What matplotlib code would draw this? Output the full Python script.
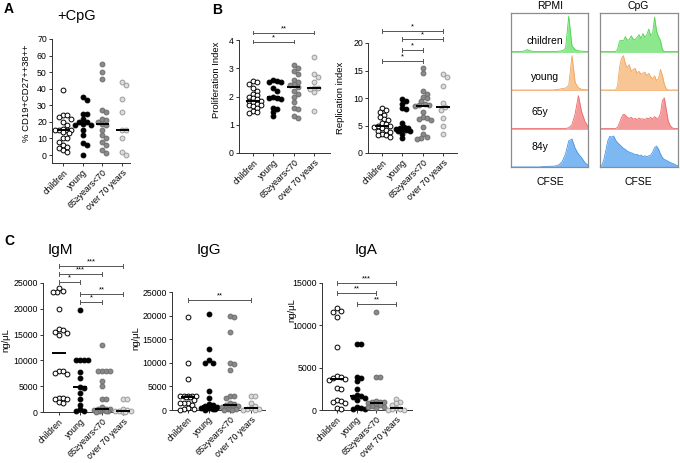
import numpy as np
import matplotlib
matplotlib.use('Agg')
import matplotlib.pyplot as plt

plt.rcParams['font.family'] = ['Liberation Sans', 'DejaVu Sans']

groups = ['children', 'young', '65≥years<70', 'over 70 years']

# A: % CD19+CD27++38++ after CpG
cpg_children = [39, 24, 24, 23, 22, 20, 18, 16, 15, 15, 15, 15, 14, 13, 10, 10, 8, 6, 5, 4, 3, 2]
cpg_young = [35, 33, 25, 25, 22, 20, 20, 19, 18, 18, 15, 12, 7, 6, 0]
cpg_65 = [55, 50, 46, 27, 26, 22, 21, 20, 19, 18, 15, 12, 10, 8, 6, 3, 1]
cpg_over70 = [44, 42, 34, 26, 15, 15, 10, 2, 0]

# B: proliferation / replication index
prolif_children = [2.55, 2.5, 2.45, 2.3, 2.2, 2.1, 2.05, 2.0, 1.95, 1.9, 1.85, 1.85, 1.8, 1.75,
                   1.7, 1.7, 1.65, 1.6, 1.5, 1.45, 1.4]
prolif_young = [2.6, 2.55, 2.5, 2.5, 2.3, 2.2, 2.0, 1.95, 1.95, 1.9, 1.6, 1.55, 1.45, 1.3]
prolif_65 = [3.1, 3.0, 2.9, 2.8, 2.6, 2.5, 2.45, 2.4, 2.35, 2.2, 2.1, 2.0, 1.8, 1.6, 1.55, 1.3, 1.25]
prolif_over70 = [3.4, 2.8, 2.7, 2.5, 2.3, 2.3, 2.25, 2.15, 1.5]

repl_children = [8.2, 7.8, 7.5, 7.0, 6.5, 6.2, 6.0, 5.5, 5.2, 5.0, 5.0, 4.8, 4.5, 4.2, 4.0, 3.8,
                 3.5, 3.2, 3.2, 3.0]
repl_young = [9.9, 9.5, 9.0, 8.2, 8.0, 5.5, 4.8, 4.5, 4.5, 4.4, 4.3, 4.2, 4.0, 4.0, 3.5, 2.7]
repl_65 = [15.5, 14.5, 11.3, 10.8, 10.2, 10.0, 9.5, 9.0, 8.8, 8.7, 8.6, 7.5, 6.5, 6.3, 6.2, 6.0,
           4.8, 3.5, 3.0, 2.8, 2.5]
repl_over70 = [14.4, 13.8, 12.2, 9.1, 8.4, 7.8, 6.4, 4.9, 3.4]

# B: CFSE histograms (relative height along the CFSE axis), rows children/young/65y/84y
rpmi_children = [0, 0, 0, 0, 0.01, 0.05, 0.02, 0, 0, 0, 0, 0, 0, 0, 0, 0.01, 0.02, 0.08,
                 0.95, 0.15, 0.05, 0.02, 0.01, 0, 0]
rpmi_young = [0, 0, 0, 0, 0, 0, 0, 0, 0, 0, 0, 0, 0, 0, 0.01, 0.02, 0.04, 0.05, 0.12, 0.92,
              0.2, 0.06, 0.02, 0.01, 0]
rpmi_65y = [0, 0, 0, 0, 0, 0, 0, 0, 0, 0, 0, 0, 0, 0, 0, 0, 0, 0, 0.02, 0.1, 0.4, 0.88,
            0.45, 0.2, 0.05]
rpmi_84y = [0, 0, 0, 0, 0, 0, 0, 0, 0, 0, 0.01, 0.01, 0.02, 0.02, 0.03, 0.06, 0.15, 0.35,
            0.7, 0.75, 0.5, 0.35, 0.25, 0.12, 0.05]
cpg_h_children = [0, 0, 0, 0, 0, 0, 0, 0, 0, 0.05, 0.28, 0.3, 0.28, 0.4, 0.3, 0.32, 0.42,
                  0.33, 0.32, 0.38, 0.45, 0.35, 0.48, 0.38, 0.45, 0.6, 0.42, 0.5, 0.92, 0.55,
                  0.4, 0.3, 0.05, 0, 0, 0, 0, 0, 0, 0, 0]
cpg_h_young = [0, 0, 0, 0, 0, 0, 0, 0, 0, 0.1, 0.6, 0.85, 0.92, 0.7, 0.6, 0.68, 0.5, 0.55,
               0.58, 0.45, 0.5, 0.42, 0.45, 0.48, 0.38, 0.45, 0.35, 0.3, 0.38, 0.25, 0.3,
               0.55, 0.4, 0.15, 0.03, 0, 0, 0, 0, 0, 0]
cpg_h_65y = [0, 0, 0, 0, 0, 0, 0, 0, 0, 0.03, 0.15, 0.3, 0.38, 0.36, 0.3, 0.27, 0.3, 0.25,
             0.27, 0.24, 0.28, 0.25, 0.26, 0.24, 0.28, 0.26, 0.3, 0.25, 0.32, 0.27, 0.28,
             0.4, 0.75, 0.82, 0.5, 0.2, 0.08, 0.02, 0, 0, 0]
cpg_h_84y = [0.0, 0.05, 0.2, 0.45, 0.7, 0.82, 0.8, 0.83, 0.72, 0.65, 0.6, 0.55, 0.5, 0.47,
             0.42, 0.4, 0.38, 0.36, 0.33, 0.34, 0.3, 0.32, 0.28, 0.3, 0.27, 0.3, 0.32, 0.4,
             0.52, 0.56, 0.48, 0.35, 0.25, 0.2, 0.18, 0.15, 0.12, 0.1, 0.08, 0.05, 0.03]
hist_rows = ['children', 'young', '65y', '84y']

# C: immunoglobulins, ng/uL
igm_children = [24000, 23500, 23300, 23200, 20000, 16000, 15800, 15600, 15300, 15000, 8000,
                7900, 7600, 7400, 2800, 2700, 2600, 2500, 1900, 1700]
igm_young = [19700, 10000, 10000, 10000, 10000, 7800, 6500, 4800, 4600, 3700, 2500, 1400,
             500, 200, 200]
igm_65 = [13000, 8000, 8000, 8000, 8000, 6000, 5000, 2500, 2500, 1000, 500, 500, 500, 400,
          300, 300, 200, 200, 100, 100, 50]
igm_over70 = [2500, 2500, 600, 300, 200, 100, 100, 50, 50]

igg_children = [19800, 10000, 6500, 3000, 3000, 3000, 3000, 3000, 2800, 2700, 2100, 1500,
                1500, 1500, 1000, 500, 300, 200, 100]
igg_young = [20300, 13000, 10500, 10000, 10000, 4000, 2500, 1200, 1000, 800, 700, 500, 500,
             500, 400, 300, 200, 100]
igg_65 = [20000, 19800, 16500, 10000, 9800, 8500, 3000, 3000, 2500, 1500, 1200, 1000, 800,
          700, 600, 500, 500, 400, 300, 200, 100, 150, 100]
igg_over70 = [3000, 3000, 1500, 800, 400, 300, 200, 100, 100]

iga_children = [12000, 11700, 11600, 11000, 7400, 4000, 3900, 3800, 3700, 3600, 2600, 2500,
                1200, 1100, 1000, 800, 200, 100]
iga_young = [7800, 7800, 3900, 3800, 3400, 2500, 1800, 1600, 1500, 1400, 1200, 300, 200,
             100, 100]
iga_65 = [11600, 3900, 3900, 1100, 1000, 1000, 900, 800, 700, 600, 500, 400, 300, 200]
iga_over70 = [1300, 1000, 800, 600, 200, 150, 100, 50, 50]

# significance comparisons (group i, group j, stars)
prolif_sig = [(0, 3, '**'), (0, 2, '*')]
repl_sig = [(0, 3, '*'), (1, 3, '*'), (1, 2, '*'), (0, 2, '*')]
igm_sig = [(0, 3, '***'), (0, 2, '***'), (0, 1, '*'), (1, 3, '**'), (1, 2, '*')]
igg_sig = [(0, 3, '**')]
iga_sig = [(0, 3, '***'), (0, 2, '**'), (1, 3, '**')]

W, H = 680, 463
fig = plt.figure(figsize=(6.8, 4.63), dpi=100)

STYLES = [('white', 'black'), ('black', 'black'), ('#8a8a8a', '#6e6e6e'), ('#dcdcdc', '#9c9c9c')]


def add_ax(x0, y0, x1, y1):
    return fig.add_axes([x0 / W, 1 - y1 / H, (x1 - x0) / W, (y1 - y0) / H])


def swarm(ax, i, vals, d=4.0, maxw=8.0):
    # simple deterministic beeswarm in pixel space, width limited to +-maxw px
    pts = ax.transData.transform(np.column_stack([np.full(len(vals), i), vals]))
    ypx = pts[:, 1]
    sx = ax.transData.transform([(1, 0)])[0, 0] - ax.transData.transform([(0, 0)])[0, 0]
    placed = []
    offs = np.zeros(len(vals))
    cands = [0.0]
    k = 1
    while k * 2.0 <= maxw:
        cands += [k * 2.0, -k * 2.0]
        k += 1
    for n in np.argsort(-ypx, kind='stable'):
        best, best_gap = 0.0, -1
        for c in cands:
            gap = min([np.hypot(c - px, ypx[n] - py) for px, py in placed] or [99])
            if gap >= d:
                best = c
                break
            if gap > best_gap + 0.5:
                best, best_gap = c, gap
        placed.append((best, ypx[n]))
        offs[n] = best / sx
    return offs


def dot_panel(ax, data, xlim, ylim, yticks, ylabel, label_xy, ytick_fmt=None):
    ax.set_xlim(*xlim)
    ax.set_ylim(*ylim)
    for i, vals in enumerate(data):
        vals = np.asarray(vals, float)
        fc, ec = STYLES[i]
        ax.scatter(i + swarm(ax, i, vals), vals, s=12, facecolor=fc, edgecolor=ec,
                   linewidths=0.7, clip_on=False, zorder=3)
        med = np.median(vals)
        ax.plot([i - 0.33, i + 0.33], [med, med], color='black', lw=1.4,
                solid_capstyle='butt', zorder=4, clip_on=False)
    for s in ['top', 'right']:
        ax.spines[s].set_visible(False)
    for s in ['left', 'bottom']:
        ax.spines[s].set_linewidth(0.7)
        ax.spines[s].set_color('#333333')
    ax.set_yticks(yticks)
    if ytick_fmt:
        ax.set_yticklabels([ytick_fmt(v) for v in yticks])
    ax.set_xticks(range(len(groups)))
    ax.set_xticklabels(groups, rotation=45, ha='right', rotation_mode='anchor')
    ax.tick_params(labelsize=6.3, length=2.5, width=0.7, pad=1.2, color='#333333')
    ax.set_ylabel(ylabel, fontsize=6.8)
    ax.yaxis.set_label_coords(*label_xy)


def brackets(ax, sig, heights):
    ppy = ax.transData.transform([(0, 1)])[0, 1] - ax.transData.transform([(0, 0)])[0, 1]
    cap = 1.8 / ppy
    for (i, j, lab), y in zip(sig, heights):
        ax.plot([i, j], [y, y], color='#555555', lw=0.7, clip_on=False)
        for x in (i, j):
            ax.plot([x, x], [y - cap, y + cap], color='#555555', lw=0.7, clip_on=False)
        ax.text((i + j) / 2, y + 0.5 / ppy, lab, ha='center', va='bottom', fontsize=5.5,
                clip_on=False)


def ftext(x, y, s, **kw):
    fig.text(x / W, 1 - y / H, s, **kw)


# ---- A
axA = add_ax(52, 39, 130, 163)
dot_panel(axA, [cpg_children, cpg_young, cpg_65, cpg_over70], (-0.56, 3.4), (-4.8, 70),
          range(0, 71, 10), '% CD19+CD27++38++', (-0.27, 0.56))
ftext(4, 9, 'A', fontsize=10, fontweight='bold', va='center')
ftext(77, 16, '+CpG', fontsize=10.5, ha='center', va='center')

# ---- B proliferation
axP = add_ax(239, 40, 330, 153)
dot_panel(axP, [prolif_children, prolif_young, prolif_65, prolif_over70], (-0.69, 3.79),
          (0, 4), range(0, 5), 'Proliferation Index', (-0.2, 0.65))
brackets(axP, prolif_sig, [4.26, 3.94])
ftext(212, 10, 'B', fontsize=10, fontweight='bold', va='center')

# ---- B replication
axR = add_ax(368, 43, 457, 153)
dot_panel(axR, [repl_children, repl_young, repl_65, repl_over70], (-0.69, 3.69),
          (0, 20), range(0, 21, 5), 'Replication index', (-0.26, 0.5))
brackets(axR, repl_sig, [22.2, 20.7, 18.7, 16.7])

# ---- B CFSE histograms
hist_colors = [('#8de88d', '#4fd34f'), ('#f8c594', '#f0a35a'),
               ('#f49a9a', '#ec6a6a'), ('#7db8f3', '#4795e6')]


def hist_box(ax, profiles, row_labels=None):
    ax.set_xlim(0, 1)
    ax.set_ylim(0, 4)
    for r, prof in enumerate(profiles):
        fc, ec = hist_colors[r]
        base = 3 - r
        x = np.linspace(0, 1, len(prof))
        y = base + np.asarray(prof) * 0.97
        ax.fill_between(x, base, y, color=fc, lw=0)
        ax.plot(x, y, color=ec, lw=0.6)
        ax.axhline(base, color=ec, lw=0.7, alpha=0.6)
    ax.set_xticks([])
    ax.set_yticks([])
    for s in ax.spines.values():
        s.set_color('#8c8c8c')
        s.set_linewidth(0.9)
    if row_labels:
        for r, lab in enumerate(row_labels):
            ax.text(0.44 if r < 2 else 0.38, 3.27 - r * 0.92, lab, ha='center', va='center',
                    fontsize=7.5, transform=ax.transData)


axH1 = add_ax(511, 13, 588, 167)
hist_box(axH1, [rpmi_children, rpmi_young, rpmi_65y, rpmi_84y], hist_rows)
axH2 = add_ax(600, 13, 678, 167)
hist_box(axH2, [cpg_h_children, cpg_h_young, cpg_h_65y, cpg_h_84y])
ftext(550, 6, 'RPMI', fontsize=7.5, ha='center', va='center')
ftext(638, 6, 'CpG', fontsize=7.5, ha='center', va='center')
ftext(550, 182, 'CFSE', fontsize=7.5, ha='center', va='center')
ftext(638, 182, 'CFSE', fontsize=7.5, ha='center', va='center')

# ---- C immunoglobulins
fmt = lambda v: str(int(v))
axM = add_ax(43, 283, 130, 412)
dot_panel(axM, [igm_children, igm_young, igm_65, igm_over70], (-0.75, 3.33), (0, 25000),
          range(0, 25001, 5000), 'ng/μL', (-0.38, 0.56), fmt)
brackets(axM, igm_sig, [28300, 26700, 25200, 22900, 21300])
ftext(4, 241, 'C', fontsize=10, fontweight='bold', va='center')
ftext(60, 250, 'IgM', fontsize=11, ha='center', va='center')

axG = add_ax(172, 292, 265, 410)
dot_panel(axG, [igg_children, igg_young, igg_65, igg_over70], (-0.76, 3.67), (0, 25000),
          range(0, 25001, 5000), 'ng/μL', (-0.34, 0.61), fmt)
brackets(axG, igg_sig, [23300])
ftext(209, 250, 'IgG', fontsize=11, ha='center', va='center')

axI = add_ax(322, 283, 412, 410)
dot_panel(axI, [iga_children, iga_young, iga_65, iga_over70], (-0.76, 3.8), (0, 15000),
          range(0, 15001, 5000), 'ng/μL', (-0.28, 0.79), fmt)
brackets(axI, iga_sig, [15000, 13800, 12500])
ftext(366, 250, 'IgA', fontsize=11, ha='center', va='center')

fig.savefig('out.png', dpi=100, facecolor='white')
